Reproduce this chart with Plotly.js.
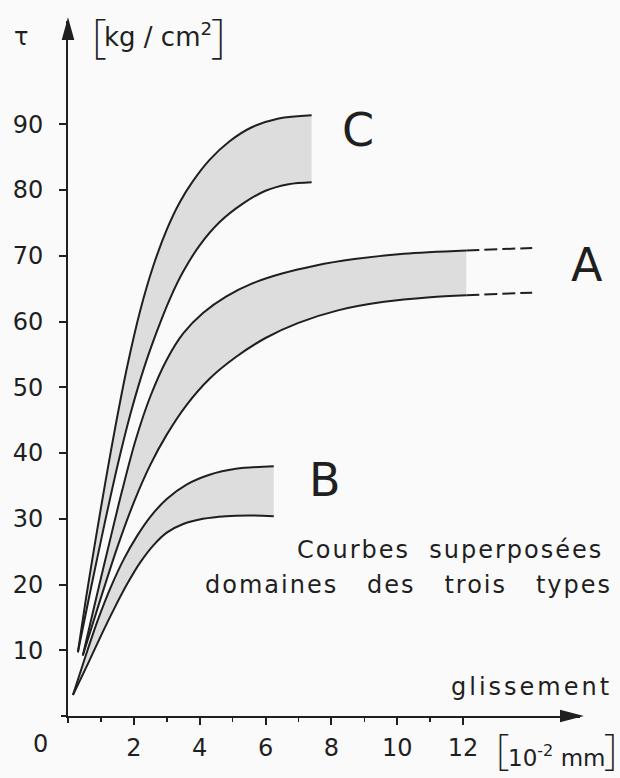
<!DOCTYPE html>
<html>
<head>
<meta charset="utf-8">
<script src="https://cdn.plot.ly/plotly-3.0.1.min.js"></script>
<style>html,body{margin:0;padding:0;background:#fafafa;}</style>
</head>
<body>
<div id="chart" style="width:620px;height:778px;"></div>
<script>
// ---- data (glissement in 10^-2 mm, tau in kg/cm2) ----
const cUpperX = [0.30, 0.55, 0.85, 1.15, 1.45, 1.8, 2.2, 2.6, 3.0, 3.4, 3.8, 4.3, 4.9, 5.6, 6.4, 7.4];
const cUpperY = [9.7, 18, 27.2, 36, 44.3, 53.2, 61.8, 68.6, 74.0, 78.2, 81.4, 84.6, 87.4, 89.6, 90.9, 91.4];
const cLowerX = [0.30, 0.7, 1.1, 1.5, 1.9, 2.3, 2.7, 3.1, 3.5, 4.0, 4.6, 5.3, 6.0, 6.7, 7.4];
const cLowerY = [9.7, 19.5, 29, 38, 46, 52.8, 58.5, 63.5, 67.6, 71.6, 75.1, 77.9, 79.9, 80.9, 81.2];

const aUpperX = [0.45, 0.85, 1.25, 1.65, 2.05, 2.5, 3.0, 3.5, 4.1, 4.8, 5.6, 6.5, 7.5, 8.7, 10.2, 12.1];
const aUpperY = [9.2, 17.8, 26.2, 34.4, 41.9, 48.6, 54.2, 58.2, 61.3, 63.8, 65.8, 67.3, 68.5, 69.5, 70.3, 70.8];
const aLowerX = [0.45, 1.0, 1.5, 2.0, 2.5, 3.0, 3.6, 4.3, 5.1, 6.0, 7.0, 8.2, 9.6, 11.0, 12.1];
const aLowerY = [9.2, 18.0, 25.7, 32.5, 38.2, 42.8, 47.3, 51.3, 54.6, 57.5, 59.8, 61.7, 63.0, 63.7, 64.0];
const aDashX = [12.1, 14.1];
const aDashUpperY = [70.8, 71.2];
const aDashLowerY = [64.0, 64.4];

const bUpperX = [0.15, 0.5, 0.9, 1.3, 1.7, 2.1, 2.5, 3.0, 3.6, 4.3, 5.1, 6.25];
const bUpperY = [3.2, 8.6, 14.5, 19.6, 23.9, 27.4, 30.3, 33.0, 35.2, 36.7, 37.6, 38.0];
const bLowerX = [0.15, 0.6, 1.0, 1.4, 1.8, 2.2, 2.6, 3.0, 3.5, 4.1, 4.8, 5.5, 6.25];
const bLowerY = [3.2, 7.9, 12.2, 16.3, 20.1, 23.4, 26.0, 27.9, 29.2, 30.0, 30.4, 30.5, 30.4];

const xTickVals = [2, 4, 6, 8, 10, 12];
const xTickText = ['2', '4', '6', '8', '10', '12'];
const xMinorVals = [1, 3, 5, 7, 9, 11];
const yTickVals = [10, 20, 30, 40, 50, 60, 70, 80, 90];
const yTickText = ['10', '20', '30', '40', '50', '60', '70', '80', '90'];

// ---- styling ----
const INK = '#1f1f1f';
const SHADE = 'rgb(221,221,221)';
const FONT = 'DejaVu Sans';
const W = 620, H = 778, ML = 68, MR = 40, MT = 21, MB = 62;
const PW = W - ML - MR, PH = H - MT - MB;
const px = v => (v - ML) / PW;          // pixel -> paper x
const py = v => (H - MB - v) / PH;       // pixel -> paper y

function line(x, y, fill) {
  return {
    x: x, y: y, type: 'scatter', mode: 'lines',
    line: {color: INK, width: 2, shape: 'spline', smoothing: 0.9},
    fill: fill ? 'tonexty' : 'none', fillcolor: SHADE,
    hoverinfo: 'skip', showlegend: false
  };
}
function dash(x, y) {
  return {
    x: x, y: y, type: 'scatter', mode: 'lines',
    line: {color: INK, width: 2, dash: '13px,5px'},
    hoverinfo: 'skip', showlegend: false
  };
}

const data = [
  line(cLowerX, cLowerY, false), line(cUpperX, cUpperY, true),
  line(aLowerX, aLowerY, false), line(aUpperX, aUpperY, true),
  line(bLowerX, bLowerY, false), line(bUpperX, bUpperY, true),
  dash(aDashX, aDashUpperY), dash(aDashX, aDashLowerY)
];

function ann(text, x, y, size, xanchor, fontExtra) {
  return {
    text: text, xref: 'paper', yref: 'paper', x: px(x), y: py(y),
    xanchor: xanchor || 'center', yanchor: 'middle', showarrow: false,
    font: Object.assign({family: FONT, size: size, color: INK}, fontExtra || {})
  };
}
const bracket = (s, x, y, size) => ann(s, x, y, size, 'center', {family: 'Noto Sans', weight: 200});
const LS = (s, n) => '<span style="letter-spacing:' + n + 'px">' + s + '</span>';
const SP = '&nbsp;&nbsp;';
const SP3 = '&nbsp;&nbsp;&nbsp;';

// axis decoration: arrow heads at the ends and the short overshoot of each axis at the origin
// (pixel path anchored at the origin of the plot area; y grows upward)
const axisDecor = 'M0,0L0,-7M0,0L-7,0' +
  'M' + PW + ',0L' + (PW - 19) + ',-5L' + (PW - 19) + ',5Z' +
  'M0,' + PH + 'L-5,' + (PH - 18) + 'L5,' + (PH - 18) + 'Z';

const layout = {
  width: W, height: H,
  margin: {l: ML, r: MR, t: MT, b: MB, pad: 0},
  paper_bgcolor: '#fafafa', plot_bgcolor: '#fafafa',
  showlegend: false,
  xaxis: {
    range: [0, PW / 32.92], showgrid: false, zeroline: false,
    showline: true, linecolor: INK, linewidth: 2,
    ticks: 'outside', ticklen: 7, tickwidth: 2, tickcolor: INK,
    tickvals: xTickVals, ticktext: xTickText, ticklabelstandoff: 2,
    minor: {tickvals: xMinorVals, ticks: 'outside', ticklen: 4, tickwidth: 1.5, tickcolor: INK, showgrid: false},
    tickfont: {family: FONT, size: 24, color: INK}, fixedrange: true
  },
  yaxis: {
    range: [0, PH / 6.574], showgrid: false, zeroline: false,
    showline: true, linecolor: INK, linewidth: 2,
    ticks: 'outside', ticklen: 7, tickwidth: 2, tickcolor: INK,
    tickvals: yTickVals, ticktext: yTickText, ticklabelstandoff: 11,
    tickfont: {family: FONT, size: 24, color: INK}, fixedrange: true
  },
  shapes: [
    {type: 'path', xref: 'paper', yref: 'paper', xsizemode: 'pixel', ysizemode: 'pixel',
     xanchor: 0, yanchor: 0, path: axisDecor, fillcolor: INK,
     line: {color: INK, width: 2}, layer: 'above'}
  ],
  annotations: [
    ann('τ', 21, 37, 24),
    bracket('[', 99, 34, 46),
    ann('kg / cm<sup>2</sup>', 158, 35, 26),
    bracket(']', 218, 34, 46),
    ann('C', 358, 130, 46),
    ann('A', 587, 265, 46),
    ann('B', 325, 480, 46),
    ann(LS('Courbes' + SP + 'superposées', 2), 605, 550, 24, 'right'),
    ann(LS('domaines' + SP3 + 'des' + SP3 + 'trois' + SP3 + 'types', 2), 614, 585, 24, 'right'),
    ann(LS('glissement', 3), 614, 687, 24, 'right'),
    ann('0', 40, 744, 24),
    bracket('[', 502, 747, 42),
    ann('10<sup>-2</sup> mm', 556, 756, 23),
    bracket(']', 610, 747, 42)
  ]
};

Plotly.newPlot('chart', data, layout, {staticPlot: true, displayModeBar: false});
</script>
</body>
</html>
